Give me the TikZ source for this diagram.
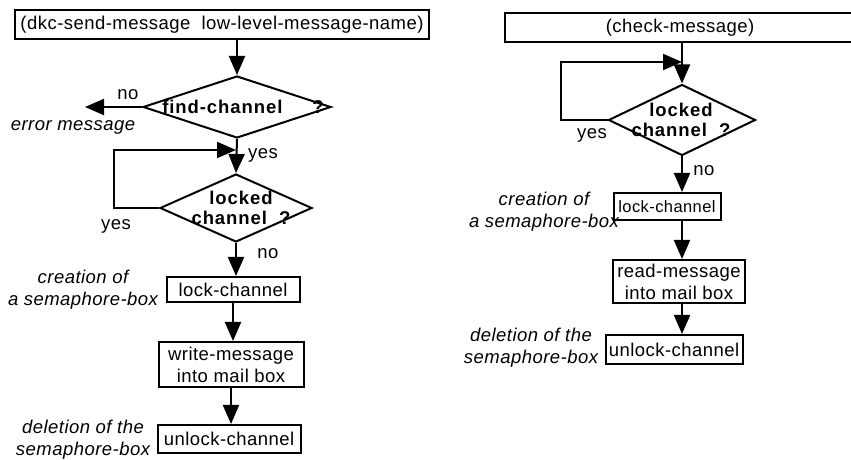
\documentclass[tikz,border=0pt]{standalone}
\usepackage{fontspec}
\setmainfont{Liberation Sans}[LetterSpace=2.5]
\usetikzlibrary{shapes.geometric, arrows.meta}

\begin{document}
\begin{tikzpicture}[x=1pt, y=1pt, line width=2pt,
    font=\fontsize{18.5}{22}\selectfont,
    box/.style={draw, rectangle, inner sep=0pt, align=center},
    decision/.style={draw, diamond, inner sep=0pt},
    flow/.style={-{Triangle[length=19pt,width=16pt]}},
    note/.style={font=\fontsize{18.5}{22}\selectfont\itshape, align=center},
    ask/.style={font=\fontsize{18.5}{20}\selectfont\addfontfeatures{LetterSpace=5}\bfseries, align=center}]
\useasboundingbox (0,0) rectangle (851,460);

% send side
\node[box, minimum width=414pt, minimum height=29pt] (send) at (222,435.5) {(dkc-send-message\ \ low-level-message-name)};
\node[decision, minimum width=188pt, minimum height=62pt, label={[ask, xshift=6pt]center:find-channel\hspace{30pt}?}] (find) at (237,353) {};
\node (no1) at (128,365) {no};
\node[note] (errmsg) at (73,333) {error message};
\coordinate (err) at (85,353);
\node (yes1) at (263,305) {yes};
\node[decision, minimum width=152pt, minimum height=68pt, label={[ask, xshift=5pt]center:{locked\\channel\ \ ?}}] (locked) at (236,252) {};
\coordinate (back1) at (236,310);
\node (yes2) at (116,234) {yes};
\node (no2) at (268,206) {no};
\node[box, minimum width=133pt, minimum height=25pt] (lock) at (233,170.5) {lock-channel};
\node[note] (create1) at (83,170) {creation of\\a semaphore-box};
\node[box, minimum width=145pt, minimum height=45pt] (write) at (231,95.5) {write-message\\into mail box};
\node[box, minimum width=143pt, minimum height=28pt] (unlock) at (229,21) {unlock-channel};
\node[note] (delete1) at (83,20) {deletion of the\\semaphore-box};

\draw[flow] (send.south -| find.north) -- (find.north);
\draw[flow] (find.west) -- (err);
\draw[flow] (find.south) -- (locked.north);
\draw[flow] (locked.west) -- ++(-45,0) |- (back1);
\draw[flow] (locked.south) -- (locked.south |- lock.north);
\draw[flow] (lock.south) -- (lock.south |- write.north);
\draw[flow] (write.south) -- (write.south |- unlock.north);

% check side
\node[box, minimum width=351pt, minimum height=29pt] (check) at (680,432.5) {(check-message)};
\node[decision, minimum width=147pt, minimum height=71pt, label={[ask, xshift=-1pt]center:{locked\\channel\ \ ?}}] (locked2) at (682,340) {};
\coordinate (back2) at (682,398);
\node (yes3) at (592,325) {yes};
\node (no3) at (704,289) {no};
\node[box, minimum width=107pt, minimum height=27pt, font=\fontsize{16.5}{20}\selectfont] (lock2) at (667,253.5) {lock-channel};
\node[note] (create2) at (544,248) {creation of\\a semaphore-box};
\node[box, minimum width=132pt, minimum height=43pt] (read) at (679,178.5) {read-message\\into mail box};
\node[box, minimum width=137pt, minimum height=29pt] (unlock2) at (674,110.5) {unlock-channel};
\node[note] (delete2) at (531,112) {deletion of the\\semaphore-box};

\draw[flow] (check.south -| locked2.north) -- (locked2.north);
\draw[flow] (locked2.west) -- ++(-47,0) |- (back2);
\draw[flow] (locked2.south) -- (locked2.south |- lock2.north);
\draw[flow] (lock2.south -| locked2.south) -- (locked2.south |- read.north);
\draw[flow] (read.south -| locked2.south) -- (locked2.south |- unlock2.north);
\end{tikzpicture}
\end{document}
